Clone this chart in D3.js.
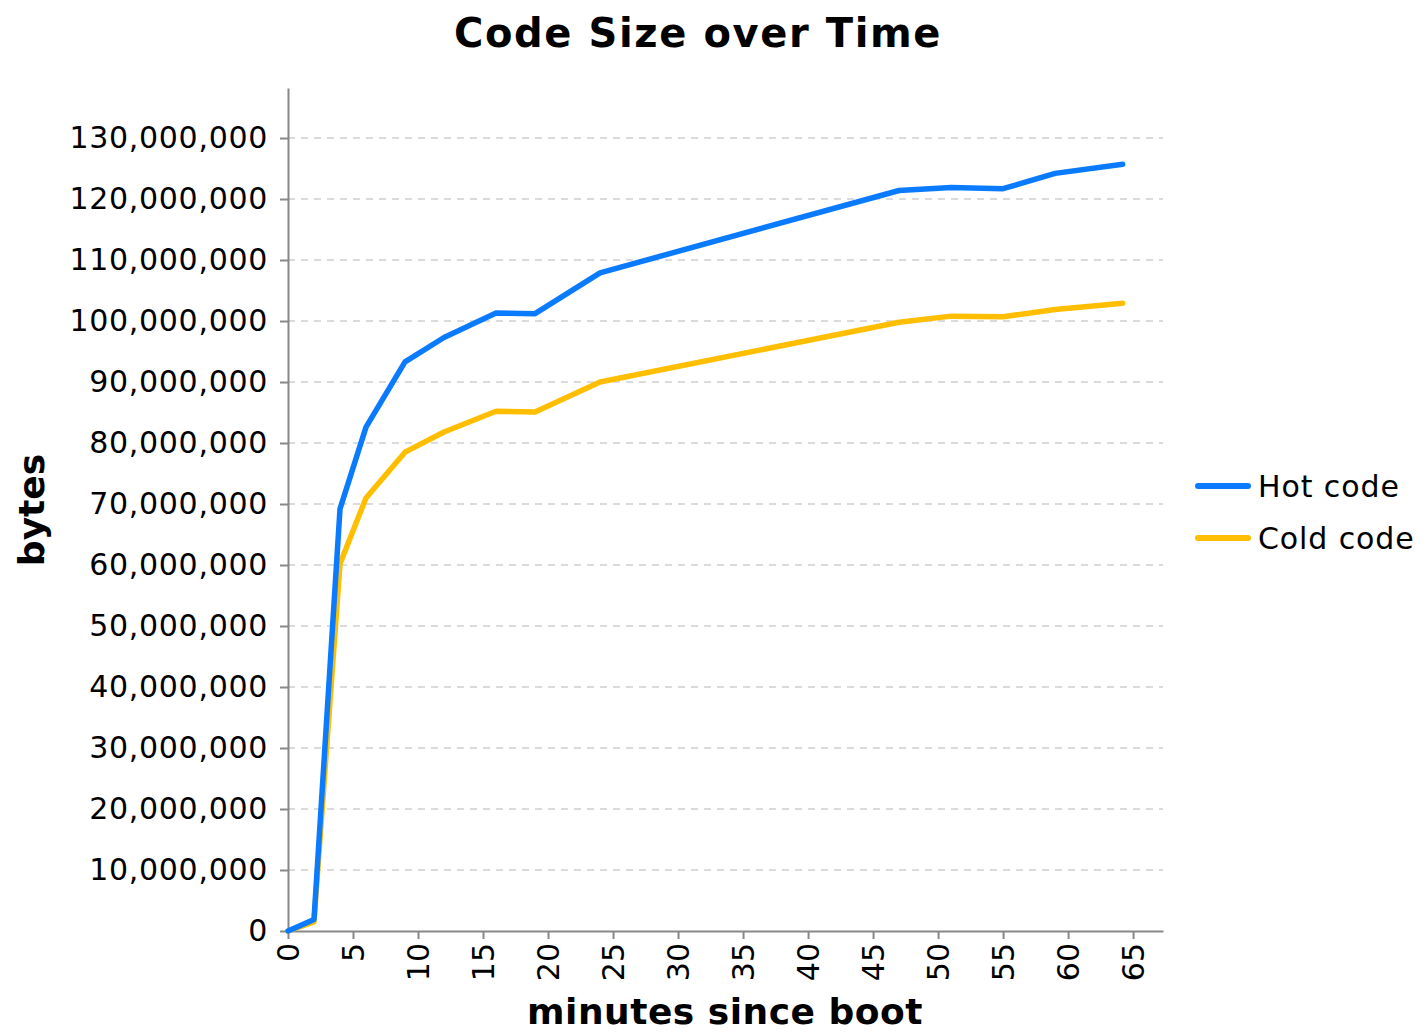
<!DOCTYPE html>
<html>
<head>
<meta charset="utf-8">
<script src="https://cdn.jsdelivr.net/npm/d3@7/dist/d3.min.js"></script>
<style>
  body { margin: 0; background: #fff; }
  text { font-family: "DejaVu Sans", sans-serif; fill: #000; }
</style>
</head>
<body>
<svg id="chart" width="1426" height="1034"></svg>
<script>
const minutes = [0, 2, 4, 6, 9, 12, 16, 19, 24, 47, 51, 55, 59, 64.2];
const hotCode = [0, 1900000, 69200000, 82600000, 93300000, 97300000, 101300000, 101200000, 107900000, 121400000, 121900000, 121700000, 124200000, 125700000];
const coldCode = [0, 1500000, 60200000, 71000000, 78500000, 81800000, 85200000, 85100000, 90000000, 99800000, 100800000, 100700000, 101900000, 102900000];
const seriesNames = ["Hot code", "Cold code"];
const seriesColors = ["#0a7bff", "#ffbf00"];
const xTicks = [0, 5, 10, 15, 20, 25, 30, 35, 40, 45, 50, 55, 60, 65];
const yTicks = [0, 10e6, 20e6, 30e6, 40e6, 50e6, 60e6, 70e6, 80e6, 90e6, 100e6, 110e6, 120e6, 130e6];

(function () {
const svg = d3.select("#chart");
const pL = 288, pR = 1163, pT = 88, pB = 931;

const x = d3.scaleLinear().domain([0, 67.3]).range([pL, pR]);
const y = d3.scaleLinear().domain([0, 138.2e6]).range([pB, pT]);

// gridlines
svg.append("g").selectAll("line").data(yTicks.slice(1)).join("line")
  .attr("x1", pL).attr("x2", pR)
  .attr("y1", d => y(d)).attr("y2", d => y(d))
  .attr("stroke", "#d0d0d0").attr("stroke-width", 1.5)
  .attr("stroke-dasharray", "7,6");

// y axis
const yAxis = svg.append("g").attr("transform", `translate(${pL},0)`)
  .call(d3.axisLeft(y).tickValues(yTicks).tickFormat(d3.format(",")).tickSize(8).tickPadding(12).tickSizeOuter(0));
yAxis.select(".domain").attr("stroke", "#888").attr("stroke-width", 2);
yAxis.selectAll(".tick line").attr("stroke", "#888").attr("stroke-width", 2);
yAxis.selectAll("text").attr("font-size", 30).attr("font-family", "DejaVu Sans")
  .attr("fill", "#111").attr("letter-spacing", "0.7px");

// x axis
const xAxis = svg.append("g").attr("transform", `translate(0,${pB})`)
  .call(d3.axisBottom(x).tickValues(xTicks).tickSize(8).tickSizeOuter(0));
xAxis.select(".domain").attr("stroke", "#888").attr("stroke-width", 2);
xAxis.selectAll(".tick line").attr("stroke", "#888").attr("stroke-width", 2);
xAxis.selectAll("text")
  .attr("font-size", 30).attr("font-family", "DejaVu Sans").attr("fill", "#111")
  .attr("transform", "rotate(-90)")
  .attr("text-anchor", "end")
  .attr("x", -12).attr("y", 0).attr("dy", "0.35em");

// lines
const series = [hotCode, coldCode];
const line = d3.line().x((d, i) => x(minutes[i])).y(d => y(d));
[1, 0].forEach(k => {
  svg.append("path").datum(series[k])
    .attr("d", line)
    .attr("fill", "none")
    .attr("stroke", seriesColors[k])
    .attr("stroke-width", 5.5)
    .attr("stroke-linejoin", "round")
    .attr("stroke-linecap", "round");
});

// title
svg.append("text").attr("x", 698).attr("y", 47).attr("text-anchor", "middle")
  .attr("font-size", 40).attr("font-weight", "bold").attr("letter-spacing", "1.6px")
  .text("Code Size over Time");

// axis titles
svg.append("text").attr("x", 725).attr("y", 1024).attr("text-anchor", "middle")
  .attr("font-size", 36).attr("font-weight", "bold").attr("letter-spacing", "0.5px")
  .text("minutes since boot");
svg.append("text").attr("transform", "translate(44,510) rotate(-90)").attr("text-anchor", "middle")
  .attr("font-size", 36).attr("font-weight", "bold").text("bytes");

// legend
const legend = svg.append("g");
seriesNames.forEach((name, i) => {
  const ly = 486 + i * 52;
  legend.append("line").attr("x1", 1198).attr("x2", 1248).attr("y1", ly).attr("y2", ly)
    .attr("stroke", seriesColors[i]).attr("stroke-width", 6).attr("stroke-linecap", "round");
  legend.append("text").attr("x", 1258).attr("y", ly).attr("dy", "0.36em")
    .attr("font-size", 30).attr("fill", "#111").attr("letter-spacing", "0.9px").text(name);
});
})();
</script>
</body>
</html>
